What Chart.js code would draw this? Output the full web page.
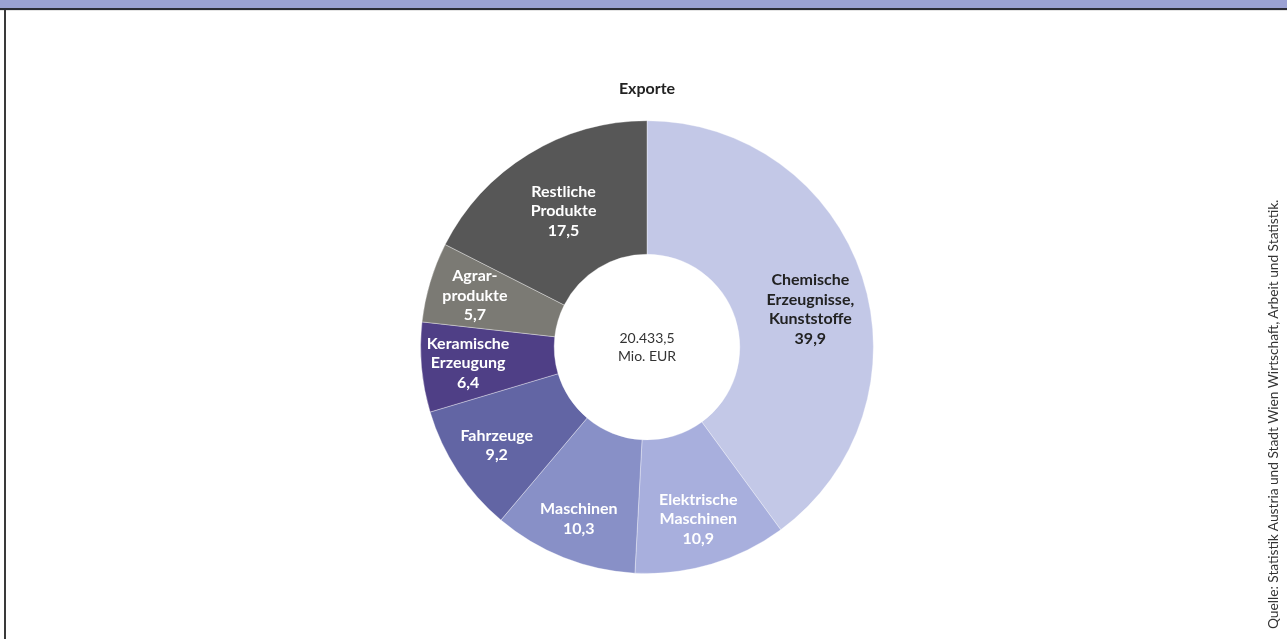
<!DOCTYPE html>
<html lang="de">
<head>
<meta charset="utf-8">
<title>Exporte</title>
<script src="https://cdn.jsdelivr.net/npm/chart.js@4/dist/chart.umd.min.js"></script>
<style>
  html, body { margin: 0; padding: 0; background: #fff; }
  #page { position: relative; width: 1287px; height: 639px; overflow: hidden; }
  #band { position: absolute; left: 0; top: 0; width: 1287px; height: 8px; background: #9ba1d3; border-bottom: 2px solid #2c2c36; }
  #band-shade { position: absolute; left: 0; top: 10px; width: 1287px; height: 1px; background: #e4e4e4; }
  #frame { position: absolute; left: 4px; top: 10px; width: 2px; height: 629px; background: #3a3a3a; }
  #chartBox { position: absolute; left: 0; top: 0; width: 1287px; height: 639px; }
  #source {
    position: absolute; left: 1263px; top: 0; height: 629px; width: 20px;
    writing-mode: vertical-rl; transform: rotate(180deg);
    font-family: Lato, "Open Sans", sans-serif; font-size: 13.7px; color: #333;
    text-align: left; line-height: 20px;
  }
</style>
</head>
<body>
<div id="page">
  <div id="chartBox"><canvas id="myChart" width="1287" height="639"></canvas></div>
  <div id="band"></div>
  <div id="band-shade"></div>
  <div id="frame"></div>
  <div id="source">Quelle: Statistik Austria und Stadt Wien Wirtschaft, Arbeit und Statistik.</div>
</div>
<script>
// Anteile der Exporte in Prozent
const categories = [
  ["Chemische", "Erzeugnisse,", "Kunststoffe"],
  ["Elektrische", "Maschinen"],
  ["Maschinen"],
  ["Fahrzeuge"],
  ["Keramische", "Erzeugung"],
  ["Agrar-", "produkte"],
  ["Restliche", "Produkte"]
];
const shares = [39.9, 10.9, 10.3, 9.2, 6.4, 5.7, 17.5];
const shareLabels = ["39,9", "10,9", "10,3", "9,2", "6,4", "5,7", "17,5"];
const totalText = ["20.433,5", "Mio. EUR"];

const colors = ["#c3c8e7", "#a8afdd", "#8890c7", "#6265a4", "#4f3f86", "#7b7a74", "#575757"];
const labelColors = ["#222222", "#ffffff", "#ffffff", "#ffffff", "#ffffff", "#ffffff", "#ffffff"];

// Beschriftung in den Segmenten
const sliceLabels = {
  id: 'sliceLabels',
  afterDatasetsDraw(chart, args, opts) {
    const ctx = chart.ctx;
    const arcs = chart.getDatasetMeta(0).data;
    ctx.save();
    ctx.textAlign = 'center';
    ctx.textBaseline = 'middle';
    ctx.font = 'bold 16px Lato, "Open Sans", sans-serif';
    arcs.forEach((arc, i) => {
      const p = arc.getProps(['x', 'y', 'startAngle', 'endAngle', 'innerRadius', 'outerRadius'], true);
      const tweak = opts.tweak[i] || {};
      const angle = (p.startAngle + p.endAngle) / 2 + (tweak.angle || 0);
      const r = p.innerRadius + (p.outerRadius - p.innerRadius) * (tweak.pos || opts.pos);
      const cx = p.x + Math.cos(angle) * r;
      const cy = p.y + Math.sin(angle) * r;
      const lines = categories[i].concat([shareLabels[i]]);
      const lh = 19.5;
      const top = cy - (lines.length - 1) * lh / 2;
      ctx.fillStyle = labelColors[i];
      lines.forEach((t, k) => ctx.fillText(t, cx, top + k * lh));
    });
    ctx.restore();
  }
};

// Summe in der Mitte
const centerText = {
  id: 'centerText',
  afterDatasetsDraw(chart) {
    const arc = chart.getDatasetMeta(0).data[0];
    const ctx = chart.ctx;
    ctx.save();
    ctx.textAlign = 'center';
    ctx.textBaseline = 'middle';
    ctx.fillStyle = '#333333';
    ctx.font = '14px Lato, "Open Sans", sans-serif';
    ctx.fillText(totalText[0], arc.x, arc.y - 9);
    ctx.fillText(totalText[1], arc.x, arc.y + 9);
    ctx.restore();
  }
};

const data = {
  labels: categories.map(c => c.join(' ')),
  datasets: [{
    data: shares,
    backgroundColor: colors,
    borderColor: 'rgba(255,255,255,0.35)',
    borderWidth: 1
  }]
};

const config = {
  type: 'doughnut',
  data,
  options: {
    responsive: false,
    animation: false,
    cutout: '41%',
    layout: {
      padding: { top: 70, bottom: 65, left: 400, right: 393 }
    },
    plugins: {
      legend: { display: false },
      tooltip: { enabled: false },
      title: {
        display: true,
        text: 'Exporte',
        color: '#222222',
        font: { family: 'Lato, "Open Sans", sans-serif', size: 16, weight: 'bold' },
        padding: { top: 9, bottom: 22 }
      },
      sliceLabels: {
        pos: 0.65,
        tweak: {
          0: { angle: 0.09, pos: 0.56 },
          2: { pos: 0.69 },
          6: { pos: 0.5 }
        }
      }
    }
  },
  plugins: [sliceLabels, centerText]
};

// render
const myChart = new Chart(document.getElementById('myChart'), config);
</script>
</body>
</html>
